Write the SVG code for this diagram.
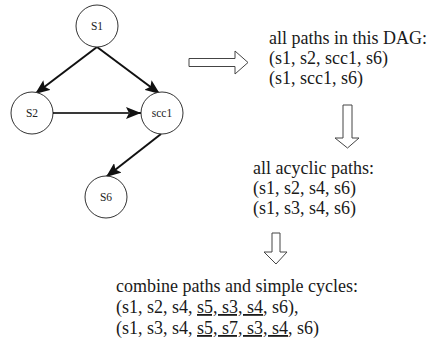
<svg xmlns="http://www.w3.org/2000/svg" width="433" height="358" viewBox="0 0 433 358">
  <style>
    .node circle { fill: #fff; stroke: #333; stroke-width: 1; }
    .node text { font-family: "Liberation Serif", "Times New Roman", serif; font-size: 11.5px; fill: #222; text-anchor: middle; }
    .edge { stroke: #111; stroke-width: 2; fill: none; }
    .edge-core { stroke: #777; stroke-width: 0.8; fill: none; }
    .hollow { fill: #fff; stroke: #444; stroke-width: 1; }
    .txt { font-family: "Liberation Serif", "Times New Roman", serif; font-size: 18px; fill: #1a1a1a; }
    .ul { text-decoration: underline; }
  </style>
  <defs>
    <marker id="head" markerUnits="userSpaceOnUse" markerWidth="16" markerHeight="12" refX="15" refY="6" orient="auto">
      <path d="M0,0 L15,6 L0,12 L3,6 Z" fill="#111"/>
    </marker>
  </defs>

  <!-- connectors between the DAG nodes -->
  <g id="edges">
    <line class="edge" x1="97" y1="47" x2="35" y2="94" marker-end="url(#head)"/>
    <line class="edge" x1="97" y1="47" x2="160" y2="94" marker-end="url(#head)"/>
    <line class="edge" x1="53" y1="113" x2="141" y2="113" stroke-width="2.6" marker-end="url(#head)"/>
    <line class="edge-core" x1="54" y1="113" x2="130" y2="113"/>
    <line class="edge" x1="161" y1="134" x2="106" y2="177" marker-end="url(#head)"/>
  </g>

  <g id="s1" class="node"><circle cx="97" cy="26" r="21"/><text x="97" y="30">S1</text></g>
  <g id="s2" class="node"><circle cx="32" cy="113" r="21"/><text x="32" y="117">S2</text></g>
  <g id="scc1" class="node"><circle cx="162" cy="113" r="21"/><text x="162" y="117">scc1</text></g>
  <g id="s6" class="node"><circle cx="106" cy="197" r="21"/><text x="106" y="201">S6</text></g>

  <!-- hollow block arrows between the stages -->
  <g id="arrows">
    <path class="hollow" d="M189,58.5 H235 V51 L248,62.5 L235,74 V66.5 H189 Z"/>
    <path class="hollow" d="M343,105 V138 H335 L347.5,148 L359,138 H352 V105 Z"/>
    <path class="hollow" d="M272,233 V252 H264 L276,264 L287,252 H280 V233 Z"/>
  </g>

  <g id="dag-paths" class="txt">
    <text x="269" y="44">all paths in this DAG:</text>
    <text x="269" y="64">(s1, s2, scc1, s6)</text>
    <text x="269" y="84">(s1, scc1, s6)</text>
  </g>

  <g id="acyclic-paths" class="txt">
    <text x="253" y="174">all acyclic paths:</text>
    <text x="253" y="194">(s1, s2, s4, s6)</text>
    <text x="253" y="214">(s1, s3, s4, s6)</text>
  </g>

  <g id="combined-paths" class="txt">
    <text x="116" y="292">combine paths and simple cycles:</text>
    <text x="116" y="313">(s1, s2, s4, <tspan class="ul">s5, s3, s4</tspan>, s6),</text>
    <text x="116" y="334">(s1, s3, s4, <tspan class="ul">s5, s7, s3, s4</tspan>, s6)</text>
  </g>
</svg>
